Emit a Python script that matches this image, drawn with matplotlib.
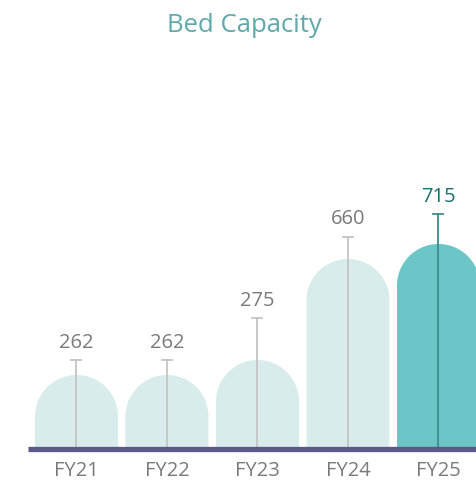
import numpy as np
import matplotlib
matplotlib.use('Agg')
import matplotlib.pyplot as plt
from matplotlib.patches import Polygon

# data
categories = ["FY21", "FY22", "FY23", "FY24", "FY25"]
values = [262, 262, 275, 660, 715]
# drawn heights (the chart is not to scale), in pixels above the baseline
bar_heights = [73.5, 73.5, 88.5, 189.5, 204.5]
stem_heights = [88.5, 88.5, 131, 212, 234.5]

light = "#d9ecec"
dark = "#6cc5c6"
font = "Open Sans"

fig = plt.figure(figsize=(4.77, 4.85), dpi=100)
ax = fig.add_axes([0, 0, 1, 1])
ax.set_xlim(0, 477)
ax.set_ylim(-35.5, 449.5)
ax.axis("off")

x0, step, w = 76.5, 90.5, 83
r = w / 2
theta = np.linspace(0, np.pi, 60)

for i, (cat, val, h, s) in enumerate(zip(categories, values, bar_heights, stem_heights)):
    xc = x0 + step * i
    last = i == len(categories) - 1
    # arch-shaped bar
    pts = [(xc - r, 0)] + [(xc - r, h - r)]
    pts += [(xc - r * np.cos(t), h - r + r * np.sin(t)) for t in theta]
    pts += [(xc + r, 0)]
    ax.add_patch(Polygon(pts, closed=True, facecolor=dark if last else light,
                         edgecolor="none", zorder=1))
    sc = "#3f8c8c" if last else "#c4c4c4"
    ax.plot([xc, xc], [0, s], color=sc, lw=1.3, zorder=2)
    ax.plot([xc - 5, xc + 5], [s, s], color=sc, lw=1.3, zorder=2)
    ax.text(xc, s + 18, str(val), ha="center", va="center", fontsize=14.5,
            family=font, color="#1d6e6e" if last else "#7a7a7a")
    ax.text(xc, -22, cat, ha="center", va="center", fontsize=14.5,
            family=font, color="#7a7a7a")

ax.plot([28, 477], [0, 0], color="#5c5889", lw=3.8, solid_capstyle="butt", zorder=3)

fig.text(244 / 477, 1 - 25 / 485, "Bed Capacity", ha="center", va="center",
         fontsize=18.5, family=font, color="#5fa9a8")

fig.savefig("out.png", dpi=100)
